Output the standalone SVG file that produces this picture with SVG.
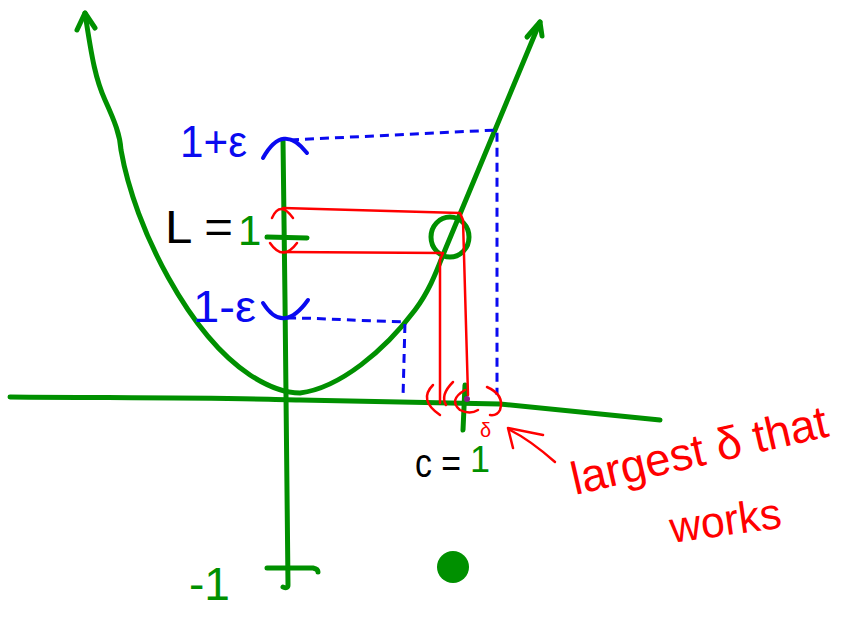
<svg xmlns="http://www.w3.org/2000/svg" width="850" height="618" viewBox="0 0 850 618">
<style>
.g{fill:none;stroke:#009000;stroke-width:5;stroke-linecap:round;stroke-linejoin:round}
.b{fill:none;stroke:#0a0af0;stroke-width:4;stroke-linecap:round;stroke-linejoin:round}
.bd{fill:none;stroke:#0a0af0;stroke-width:3;stroke-dasharray:9 6}
.r{fill:none;stroke:#ff0000;stroke-width:2.5;stroke-linecap:round;stroke-linejoin:round}
.t{font-family:"Liberation Sans","DejaVu Sans",sans-serif}
</style>
<rect width="850" height="618" fill="#ffffff"/>
<g id="axes">
<path class="g" d="M10,397 C150,398 250,398 300,400 C400,402 450,403 500,404 L660,420"/>
<path class="g" d="M283,140 L285,300 L288,585 Q288,589 283,587"/>
<path class="g" d="M267,568 L313,568 Q318,569 318,572"/>
<path class="g" d="M267,237 L307,238"/>
<path class="g" d="M465,385 L463,430"/>
</g>
<g id="parabola">
<path class="g" d="M85,13 C92,60 96,80 105,100 C115,122 120,135 121,150 C135,230 190,335 250,375 C270,388 285,393 300,393 C340,388 385,350 415,310 C430,290 437,270 445,250 L540,22"/>
<path class="g" d="M77,30 L85,13 L95,28"/>
<path class="g" d="M527,37 L540,22 L542,36"/>
<ellipse class="g" cx="450" cy="237" rx="19" ry="20"/>
<circle cx="453" cy="567" r="16" fill="#009000"/>
</g>
<g id="epsilon-band">
<path class="b" d="M263,158 Q283,122 307,153"/>
<path class="b" d="M263,303 Q283,335 308,300"/>
<path class="bd" d="M290,140 L497,130 L497,395"/>
<path class="bd" d="M287,318 C320,318 340,320 405,322 L403,398"/>
</g>
<g id="delta-band">
<path class="r" d="M283,208 L460,213 L463,220 L468,395"/>
<path class="r" d="M283,252 L443,253 L440,260 L440,403"/>
<path class="r" d="M272,218 Q280,200 293,218"/>
<path class="r" d="M270,243 Q283,262 297,243"/>
<path class="r" d="M433,385 Q418,400 440,415"/>
<path class="r" d="M453,382 Q440,395 446,405"/>
<path class="r" d="M465,390 Q448,400 460,410 Q470,415 478,410"/>
<path class="r" d="M487,387 Q505,395 500,410 Q497,416 490,415"/>
<path class="r" d="M555,462 Q530,440 510,430"/>
<path class="r" d="M513,448 L508,428 L543,435"/>
<circle cx="467" cy="399" r="3" fill="#8a1a8a"/>
</g>
<g id="labels" class="t">
<text x="180" y="157" font-size="44" fill="#0a0af0" textLength="67" lengthAdjust="spacingAndGlyphs">1+ε</text>
<text x="193" y="322" font-size="44" fill="#0a0af0" textLength="63" lengthAdjust="spacingAndGlyphs">1-ε</text>
<text x="165" y="243" font-size="46" fill="#000000" textLength="68" lengthAdjust="spacingAndGlyphs">L =</text>
<text x="238" y="245" font-size="42" fill="#009000">1</text>
<text x="415" y="477" font-size="40" fill="#000000" textLength="46" lengthAdjust="spacingAndGlyphs">c =</text>
<text x="470" y="472" font-size="36" fill="#009000">1</text>
<text x="189" y="600" font-size="46" fill="#009000" textLength="41" lengthAdjust="spacingAndGlyphs">-1</text>
<text x="480" y="437" font-size="20" fill="#ff0000">δ</text>
<text x="575" y="495" font-size="46" fill="#ff0000" textLength="262" lengthAdjust="spacingAndGlyphs" transform="rotate(-13 575 495)">largest δ that</text>
<text x="672" y="543" font-size="44" fill="#ff0000" textLength="112" lengthAdjust="spacingAndGlyphs" transform="rotate(-8 672 543)">works</text>
</g>
</svg>
